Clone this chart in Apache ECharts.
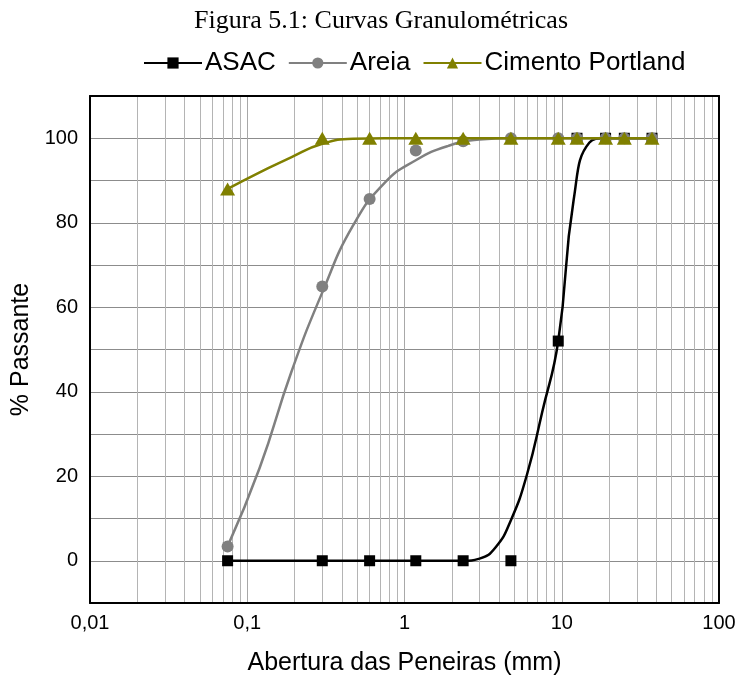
<!DOCTYPE html>
<html>
<head>
<meta charset="utf-8">
<script src="https://cdn.jsdelivr.net/npm/echarts@6/dist/echarts.min.js"></script>
<style>
  html, body { margin: 0; padding: 0; background: #fff; }
  #chart { width: 738px; height: 675px; }
</style>
</head>
<body>
<div id="chart"></div>
<script>
// Sieve openings (mm) and percentage passing for each material
const sieveSizes = [0.075, 0.3, 0.6, 1.18, 2.36, 4.75, 9.5, 12.5, 19, 25, 37.5];
const asacPassing = [0, 0, 0, 0, 0, 0, 52, 100, 100, 100, 100];
const areiaPassing = [3.4, 64.9, 85.6, 97.1, 99.3, 100, 100, 100, 100, 100, 100];
const cimentoPassing = [88, 100, 100, 100, 100, 100, 100, 100, 100, 100, 100];

// Fitted grading curves
const asacCurveX = [0.075, 0.3, 1.18, 2.36, 3.0, 3.8, 4.75, 6.0, 7.5, 9.5, 11.9, 15, 19, 25, 37.5];
const asacCurveY = [0, 0, 0, 0, 0.5, 3.2, 9.6, 20.3, 35.1, 52, 85.4, 99, 100, 100, 100];
const areiaCurveX = [0.075, 0.12, 0.19, 0.3, 0.47, 0.75, 1.18, 1.9, 3.0, 4.75, 9.5, 19, 37.5];
const areiaCurveY = [3.4, 22, 44.5, 63.5, 79.3, 89.5, 94.8, 98.2, 99.7, 100, 100, 100, 100];
const cimentoCurveX = [0.075, 0.12, 0.19, 0.3, 0.47, 0.75, 1.18, 2.36, 4.75, 9.5, 19, 37.5];
const cimentoCurveY = [88, 91.9, 95.5, 98.7, 99.9, 100, 100, 100, 100, 100, 100, 100];

const seriesNames = ['ASAC', 'Areia', 'Cimento Portland'];
const seriesColors = ['#000000', '#808080', '#808000'];
const seriesSymbols = ['rect', 'circle', 'triangle'];
const xTickLabels = ['0,01', '0,1', '1', '10', '100'];

const pairs = (xs, ys) => xs.map((x, i) => [x, ys[i]]);

// Minor vertical gridlines at 2..9 of every decade
const minorX = [];
[0.01, 0.1, 1, 10].forEach(d => {
  for (let k = 2; k <= 9; k++) minorX.push(+(d * k).toPrecision(3));
});

const FONT = 'Liberation Sans, Arial, sans-serif';
const chart = echarts.init(document.getElementById('chart'), null, { renderer: 'canvas' });

const curves = [
  pairs(asacCurveX, asacCurveY),
  pairs(areiaCurveX, areiaCurveY),
  pairs(cimentoCurveX, cimentoCurveY)
];
const points = [
  pairs(sieveSizes, asacPassing),
  pairs(sieveSizes, areiaPassing),
  pairs(sieveSizes, cimentoPassing)
];
const symbolSizes = [11, 12, [15, 13]];

const series = [{
  type: 'line',
  name: 'grid',
  data: [],
  silent: true,
  z: 0,
  markLine: {
    silent: true,
    z: 0,
    symbol: 'none',
    label: { show: false },
    animation: false,
    lineStyle: { color: '#b4b4b4', width: 1, type: 'solid' },
    emphasis: { disabled: true },
    data: minorX.map(v => ({ xAxis: v }))
  }
}];

seriesNames.forEach((name, i) => {
  series.push({
    type: 'line',
    name: name,
    data: curves[i],
    smooth: 0.5,
    showSymbol: false,
    symbol: seriesSymbols[i],
    symbolSize: symbolSizes[i],
    lineStyle: { color: seriesColors[i], width: 2.5 },
    itemStyle: { color: seriesColors[i] },
    z: 3 + i * 2,
    silent: true
  });
  series.push({
    type: 'scatter',
    name: name,
    data: points[i],
    symbol: seriesSymbols[i],
    symbolSize: symbolSizes[i],
    itemStyle: { color: seriesColors[i], opacity: 1 },
    z: 4 + i * 2,
    silent: true
  });
});

chart.setOption({
  animation: false,
  backgroundColor: '#ffffff',
  title: {
    text: 'Figura 5.1: Curvas Granulométricas',
    left: 376,
    textAlign: 'center',
    top: 3,
    textStyle: { fontFamily: 'Liberation Serif, Times New Roman, serif', fontSize: 26, fontWeight: 'normal', color: '#000' }
  },
  legend: {
    data: seriesNames,
    left: 138,
    top: 45,
    itemWidth: 58,
    itemHeight: 14,
    itemGap: 12,
    textStyle: { fontFamily: FONT, fontSize: 26, color: '#000', padding: [0, 0, 0, -2] }
  },
  grid: { left: 90, right: 19, top: 96, bottom: 72, containLabel: false, outerBoundsMode: 'none' },
  xAxis: [{
    type: 'log',
    logBase: 10,
    min: 0.01,
    max: 100,
    name: 'Abertura das Peneiras (mm)',
    nameLocation: 'middle',
    nameGap: 48,
    nameTextStyle: { fontFamily: FONT, fontSize: 25, color: '#000' },
    axisLine: { show: true, onZero: false, lineStyle: { color: '#000', width: 2 } },
    axisTick: { show: false },
    axisLabel: {
      fontFamily: FONT, fontSize: 20, color: '#000', margin: 10,
      formatter: v => xTickLabels[Math.round(Math.log10(v)) + 2]
    },
    splitLine: { show: true, lineStyle: { color: '#a8a8a8', width: 1 } }
  }, {
    type: 'log', logBase: 10, min: 0.01, max: 100, position: 'top',
    axisLine: { show: true, onZero: false, lineStyle: { color: '#000', width: 2 } },
    axisTick: { show: false }, axisLabel: { show: false }, splitLine: { show: false }
  }],
  yAxis: [{
    type: 'value',
    min: -10,
    max: 110,
    interval: 10,
    name: '% Passante',
    nameLocation: 'middle',
    nameGap: 50,
    nameTextStyle: { fontFamily: FONT, fontSize: 25, color: '#000' },
    axisLine: { show: true, onZero: false, lineStyle: { color: '#000', width: 2 } },
    axisTick: { show: false },
    axisLabel: {
      fontFamily: FONT, fontSize: 20, color: '#000', margin: 12,
      formatter: v => (v >= 0 && v <= 100 && v % 20 === 0) ? String(v) : ''
    },
    splitLine: { show: true, lineStyle: { color: '#8c8c8c', width: 1 } }
  }, {
    type: 'value', min: -10, max: 110, interval: 10, position: 'right',
    axisLine: { show: true, onZero: false, lineStyle: { color: '#000', width: 2 } },
    axisTick: { show: false }, axisLabel: { show: false }, splitLine: { show: false }
  }],
  series: series
});
</script>
</body>
</html>
